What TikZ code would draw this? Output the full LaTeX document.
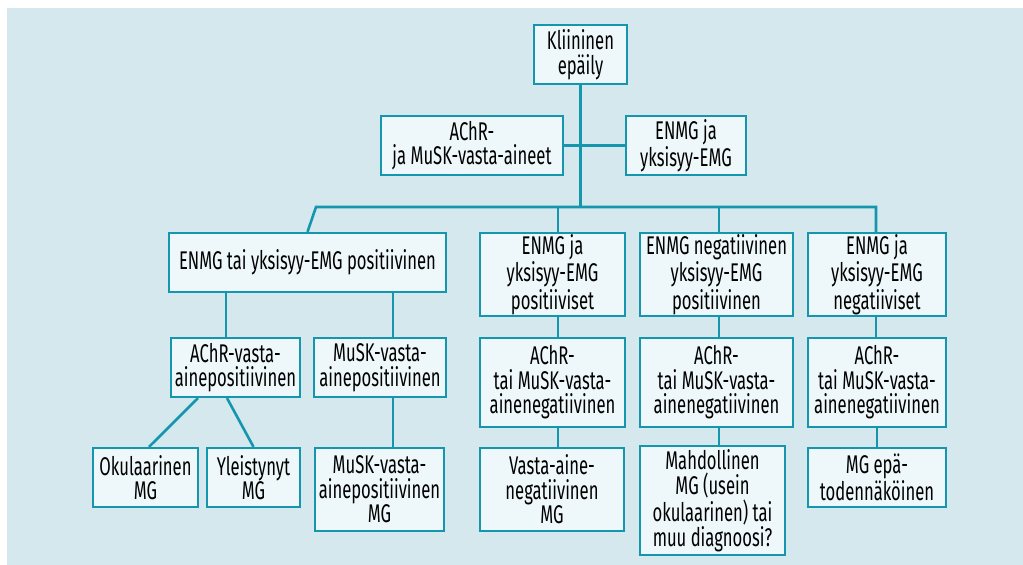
\documentclass[tikz,border=0pt]{standalone}
\usepackage{fontspec}
\setmainfont[FakeStretch=0.65]{Fira Sans}
\usetikzlibrary{positioning,calc}

\definecolor{bgblue}{HTML}{D4E8ED}
\definecolor{boxfill}{HTML}{EEF7F9}
\definecolor{teal}{HTML}{1497AE}

\begin{document}
\begin{tikzpicture}[
  x=0.5pt, y=-0.5pt,
  font=\fontsize{12.8}{12.3}\selectfont,
  box/.style={draw=teal, fill=boxfill, line width=1.1pt, align=center, inner sep=0pt},
  link/.style={draw=teal, line width=1.3pt},
]
\useasboundingbox (0,0) rectangle (1023,565);
\fill[bgblue] (7,8) rectangle (1023,565);

% ================= top =================
\node[box, minimum width=46.5pt, minimum height=29.5pt] (klin) at (580.5,54.5) {Kliininen\\epäily};
\node[box, minimum width=91pt, minimum height=29.5pt] (ab) at (472,145.5) {AChR-\\ja MuSK-vasta-aineet};
\node[box, minimum width=60pt, minimum height=29.5pt] (emg) at (686,145.5) {ENMG ja\\yksisyy-EMG};

% ================= second row =================
\node[box, minimum width=138.5pt, minimum height=29.5pt] (pos) at (307.5,262.5) {ENMG tai yksisyy-EMG positiivinen};
\node[box, minimum width=72.5pt, minimum height=41.5pt] (both) at (552.5,274.5) {ENMG ja\\yksisyy-EMG\\positiiviset};
\node[box, minimum width=76.5pt, minimum height=41.5pt] (single) at (716.5,274.5) {ENMG negatiivinen\\yksisyy-EMG\\positiivinen};
\node[box, minimum width=69pt, minimum height=41.5pt] (neg) at (877,274.5) {ENMG ja\\yksisyy-EMG\\negatiiviset};

% ================= antibodies =================
\node[box, minimum width=64.5pt, minimum height=29.5pt] (achr) at (235.5,367.5) {AChR-vasta-\\ainepositiivinen};
\node[box, minimum width=66pt, minimum height=29.5pt] (musk) at (380,367.5) {MuSK-vasta-\\ainepositiivinen};
\node[box, minimum width=72.5pt, minimum height=44.5pt] (bothab) at (552.5,382.5) {AChR-\\tai MuSK-vasta-\\ainenegatiivinen};
\node[box, minimum width=76.5pt, minimum height=44.5pt] (singleab) at (716.5,382.5) {AChR-\\tai MuSK-vasta-\\ainenegatiivinen};
\node[box, minimum width=69pt, minimum height=44.5pt] (negab) at (877,382.5) {AChR-\\tai MuSK-vasta-\\ainenegatiivinen};

% ================= outcomes =================
\node[box, minimum width=52.5pt, minimum height=29.5pt] (ocul) at (145.5,477.5) {Okulaarinen\\MG};
\node[box, minimum width=46.5pt, minimum height=29.5pt] (gen) at (253.5,477.5) {Yleistynyt\\MG};
\node[box, minimum width=64.5pt, minimum height=41.5pt] (muskmg) at (379.5,489.5) {MuSK-vasta-\\ainepositiivinen\\MG};
\node[box, minimum width=72pt, minimum height=41.5pt] (seroneg) at (552,489.5) {Vasta-aine-\\negatiivinen\\MG};
\node[box, minimum width=72.5pt, minimum height=54.5pt] (possible) at (712.5,500.5) {Mahdollinen\\MG (usein\\okulaarinen) tai\\muu diagnoosi?};
\node[box, minimum width=69pt, minimum height=29.5pt] (unlikely) at (877,477.5) {MG epä-\\todennäköinen};

% connector columns
\coordinate (busL) at (316,207);
\coordinate (busR) at (876,207);
\coordinate (c2) at (558,207);
\coordinate (c3) at (719,207);
\coordinate (c4) at (877,207);
\coordinate (j1) at (226,292);
\coordinate (j2) at (393,292);

% ================= connectors =================
\draw[link] (klin.south) -- (klin.south |- busL);
\draw[link] (ab.east) -- (emg.west);
\draw[link] (pos.north) -- (busL) -- (busR) -- (busR |- neg.north);
\draw[link] (c2) -- (c2 |- both.north);
\draw[link] (c3) -- (c3 |- single.north);

\draw[link] (j1) -- (j1 |- achr.north);
\draw[link] (j2) -- (j2 |- musk.north);
\draw[link] ([xshift=-18.75pt]achr.south) -- ([xshift=1.75pt]ocul.north);
\draw[link] ([xshift=-4.25pt]achr.south) -- (gen.north);
\draw[link] (musk.south -| j2) -- (muskmg.north -| j2);

\draw[link] (both.south -| c2) -- (bothab.north -| c2);
\draw[link] (bothab.south -| c2) -- (seroneg.north -| c2);
\draw[link] (single.south -| c3) -- (singleab.north -| c3);
\draw[link] (singleab.south -| c3) -- (possible.north -| c3);
\draw[link] (neg.south -| busR) -- (negab.north -| busR);
\draw[link] (negab.south -| c4) -- (unlikely.north -| c4);
\end{tikzpicture}
\end{document}
